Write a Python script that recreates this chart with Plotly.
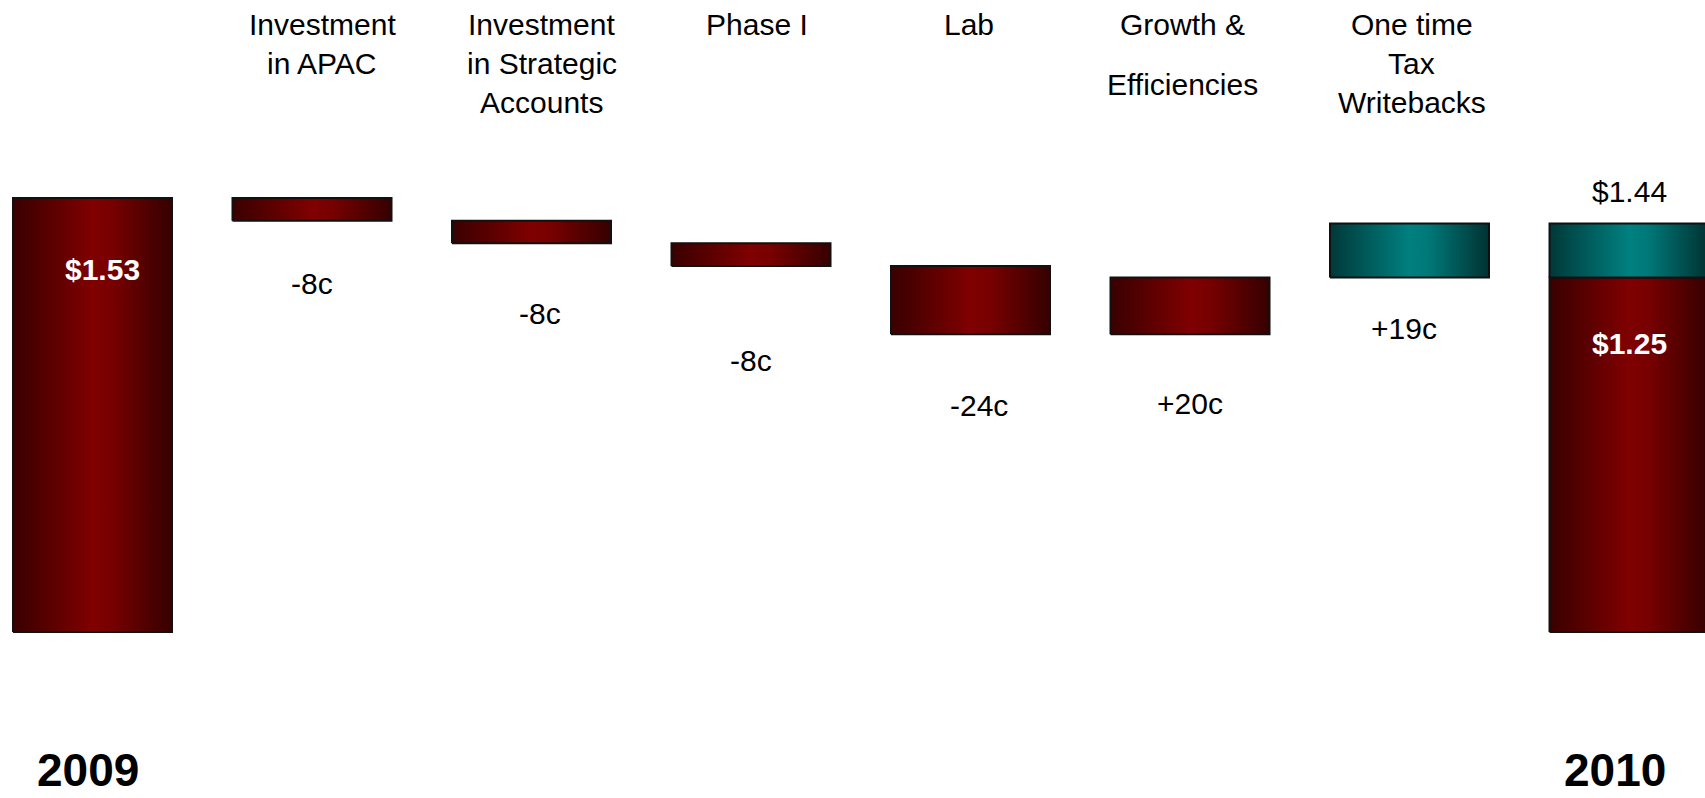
import plotly.graph_objects as go

# ---- data -------------------------------------------------------------
categories = ["2009", "Investment in APAC", "Investment in Strategic Accounts",
              "Phase I", "Lab", "Growth & Efficiencies",
              "One time Tax Writebacks", "2010"]
header_lines = [[], ["Investment", "in APAC"],
                ["Investment", "in Strategic", "Accounts"],
                ["Phase I"], ["Lab"], ["Growth &", "Efficiencies"],
                ["One time", "Tax", "Writebacks"], []]
start_value = 1.53
start_label = "$1.53"
deltas = [-0.08, -0.08, -0.08, -0.24, 0.20, 0.19]
delta_labels = ["-8c", "-8c", "-8c", "-24c", "+20c", "+19c"]
delta_kind = ["cost", "cost", "cost", "cost", "cost", "tax"]
end_value = 1.44
end_label = "$1.44"
end_core = 1.25
end_core_label = "$1.25"

# ---- styling ------------------------------------------------------------
W, H = 1705, 798
BAR_W = 0.7244
FONT = "Liberation Sans, Arial, sans-serif"
GRAD = {
    "cost": [[0, "#3a0000"], [0.12, "#4a0000"], [0.5, "#800000"],
             [0.62, "#780000"], [1, "#360000"]],
    "tax": [[0, "#003838"], [0.12, "#004a4a"], [0.5, "#008080"],
            [0.62, "#007878"], [1, "#003232"]],
}
OUTLINE = dict(color="#111111", width=2)
header_xshift = [0, 10, 10, 6, -2, -8, 2, 0]
header_line_px = [[], [25, 63], [25, 63, 102], [25], [25], [25, 84],
                  [25, 63, 102], []]
label_gap_px = [63, 70, 94, 71, 69, 51]
label_xshift = [0, 8, 0, 8, 0, -6]

Y_RANGE = [-0.585, 2.2277]
X_RANGE = [-0.4214, 7.3462]

fig = go.Figure()


def add_block(xc, y0, y1, kind):
    """Rectangle with a horizontal gradient fill, spanning y0..y1 at category xc."""
    xl, xr = xc - BAR_W / 2, xc + BAR_W / 2
    fig.add_trace(go.Scatter(
        x=[xl, xr, xr, xl, xl], y=[y0, y0, y1, y1, y0],
        mode="lines", fill="toself",
        fillgradient=dict(type="horizontal", colorscale=GRAD[kind]),
        line=OUTLINE, hoverinfo="skip", showlegend=False,
    ))


# opening total
add_block(0, 0, start_value, "cost")

# step bars
level = start_value
bottoms = []
for i, (d, kind) in enumerate(zip(deltas, delta_kind), start=1):
    new_level = level + d
    lo, hi = min(level, new_level), max(level, new_level)
    add_block(i, lo, hi, kind)
    bottoms.append(lo)
    level = new_level

# closing total: core part plus tax writeback on top
last = len(categories) - 1
add_block(last, 0, end_core, "cost")
add_block(last, end_core, end_value, "tax")

ann = []


def px_to_paper(py):
    return 1 - py / H


# category headers
for i, lines in enumerate(header_lines):
    for text, py in zip(lines, header_line_px[i]):
        ann.append(dict(x=i, xref="x", y=px_to_paper(py), yref="paper",
                        text=text, showarrow=False, xanchor="center",
                        yanchor="middle", xshift=header_xshift[i],
                        font=dict(family=FONT, size=30, color="#000000")))

# step labels under each bar
for i, (lab, lo, gap, xs) in enumerate(
        zip(delta_labels, bottoms, label_gap_px, label_xshift), start=1):
    ann.append(dict(x=i, y=lo, xref="x", yref="y", text=lab, showarrow=False,
                    xanchor="center", yanchor="middle", yshift=-gap, xshift=xs,
                    font=dict(family=FONT, size=30, color="#000000")))

# totals
ann.append(dict(x=0, y=start_value, xref="x", yref="y", text=start_label,
                showarrow=False, xanchor="center", yanchor="middle",
                xshift=10, yshift=-72,
                font=dict(family=FONT, size=30, color="#ffffff", weight="bold")))
ann.append(dict(x=last, y=end_core, xref="x", yref="y", text=end_core_label,
                showarrow=False, xanchor="center", yanchor="middle",
                yshift=-66,
                font=dict(family=FONT, size=30, color="#ffffff", weight="bold")))
ann.append(dict(x=last, y=end_value, xref="x", yref="y", text=end_label,
                showarrow=False, xanchor="center", yanchor="middle",
                yshift=32,
                font=dict(family=FONT, size=30, color="#000000")))

# year captions along the bottom edge
for i, xs in ((0, -5), (last, -14)):
    ann.append(dict(x=i, xref="x", y=0, yref="paper",
                    text=categories[i], showarrow=False, xanchor="center",
                    yanchor="bottom", xshift=xs,
                    font=dict(family=FONT, size=46, color="#000000", weight="bold")))

fig.update_layout(
    width=W, height=H,
    margin=dict(l=0, r=0, t=0, b=0),
    paper_bgcolor="#ffffff", plot_bgcolor="#ffffff",
    showlegend=False,
    xaxis=dict(range=X_RANGE, visible=False, fixedrange=True),
    yaxis=dict(range=Y_RANGE, visible=False, fixedrange=True),
    annotations=ann,
)

fig.write_html("out.html", config={"displayModeBar": False})
